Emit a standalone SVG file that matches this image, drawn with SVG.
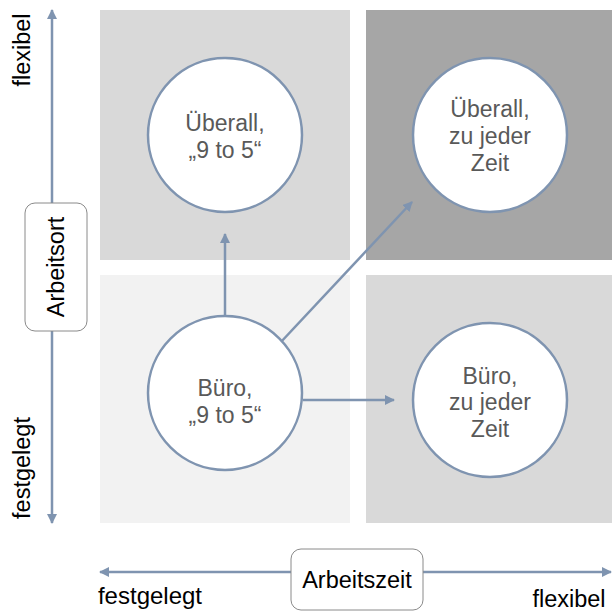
<svg xmlns="http://www.w3.org/2000/svg" width="612" height="612" viewBox="0 0 612 612">
<style>
text{font-family:"Liberation Sans",Arial,sans-serif;fill:#595959;font-size:23px;text-anchor:middle}
.c{fill:#fff;stroke:#7f94b0;stroke-width:2.5}
.ax{stroke:#7f94b0;stroke-width:2.5;fill:none}
.lbl{fill:#fff;stroke:#8a8a8a;stroke-width:1}
.ax-t{fill:#000;font-size:23.5px}
</style>
<defs>
<marker id="ah" viewBox="0 0 10 10" refX="9" refY="5" markerWidth="4" markerHeight="4" orient="auto-start-reverse" markerUnits="strokeWidth">
<path d="M0,0 L10,5 L0,10 z" fill="#7f94b0"/>
</marker>
</defs>
<rect width="612" height="612" fill="#fff"/>
<g id="quadrants">
<rect x="100" y="10" width="250" height="250" fill="#d9d9d9"/>
<rect x="366" y="10" width="246" height="250" fill="#a6a6a6"/>
<rect x="100" y="275" width="250" height="248" fill="#f2f2f2"/>
<rect x="366" y="275" width="246" height="248" fill="#d9d9d9"/>
</g>
<g id="axes">
<line class="ax" x1="52" y1="10" x2="52" y2="523" marker-start="url(#ah)" marker-end="url(#ah)"/>
<line class="ax" x1="100" y1="572" x2="611" y2="572" marker-start="url(#ah)" marker-end="url(#ah)"/>
</g>
<g id="connectors">
<line class="ax" x1="225" y1="320" x2="225" y2="234" marker-end="url(#ah)"/>
<line class="ax" x1="303" y1="400" x2="394" y2="400" marker-end="url(#ah)"/>
<line class="ax" x1="280" y1="343" x2="412" y2="202" marker-end="url(#ah)"/>
</g>
<g id="n-ueberall-9to5">
<circle class="c" cx="225" cy="135" r="77"/>
<text x="225" y="131">Überall,</text>
<text x="225" y="158">„9 to 5“</text>
</g>
<g id="n-ueberall-jederzeit">
<circle class="c" cx="490" cy="135" r="77"/>
<text x="490" y="117">Überall,</text>
<text x="490" y="144">zu jeder</text>
<text x="490" y="171">Zeit</text>
</g>
<g id="n-buero-9to5">
<circle class="c" cx="225" cy="393" r="77"/>
<text x="225" y="396">Büro,</text>
<text x="225" y="423">„9 to 5“</text>
</g>
<g id="n-buero-jederzeit">
<circle class="c" cx="490" cy="400" r="77"/>
<text x="490" y="384">Büro,</text>
<text x="490" y="410">zu jeder</text>
<text x="490" y="437">Zeit</text>
</g>
<g id="arbeitsort">
<rect class="lbl" x="25" y="203" width="62" height="128" rx="10"/>
<text class="ax-t" transform="translate(64,267) rotate(-90)">Arbeitsort</text>
</g>
<g id="arbeitszeit">
<rect class="lbl" x="291" y="549" width="132" height="61" rx="10"/>
<text class="ax-t" x="357" y="588">Arbeitszeit</text>
</g>
<g id="axis-labels">
<text class="ax-t" transform="translate(30,50) rotate(-90)">flexibel</text>
<text class="ax-t" transform="translate(30,468) rotate(-90)">festgelegt</text>
<text class="ax-t" x="150" y="604" style="font-size:24px">festgelegt</text>
<text class="ax-t" x="569" y="607">flexibel</text>
</g>
</svg>
